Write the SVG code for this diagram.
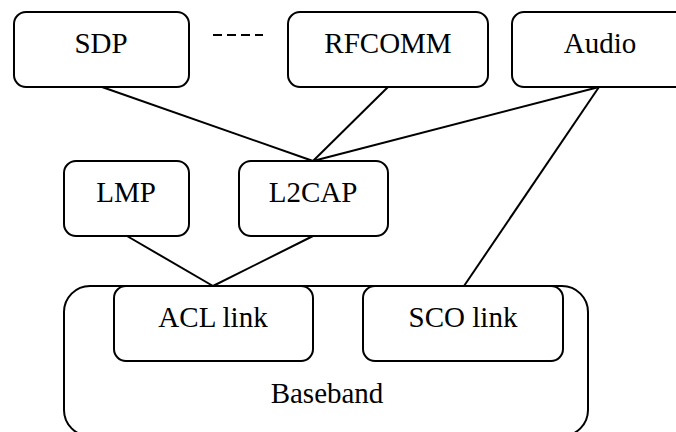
<svg xmlns="http://www.w3.org/2000/svg" width="676" height="432" viewBox="0 0 676 432" font-family="Liberation Serif">
<style>
.box{fill:#fff;stroke:#000;stroke-width:2}
.t{font-size:29px;fill:#000;text-anchor:middle}
.c{stroke:#000;stroke-width:2;fill:none}
</style>
<rect width="676" height="432" fill="#fff"/>
<g id="baseband"><rect class="box" x="64" y="286" width="524" height="150" rx="26"/><text class="t" x="327" y="403">Baseband</text></g>
<g id="connectors">
<line class="c" x1="102" y1="87" x2="313" y2="161"/>
<line class="c" x1="388" y1="87" x2="313" y2="161"/>
<line class="c" x1="599" y1="87" x2="313" y2="161"/>
<line class="c" x1="599" y1="87" x2="464" y2="286"/>
<line class="c" x1="127" y1="236" x2="213" y2="286"/>
<line class="c" x1="313" y1="236" x2="213" y2="286"/>
<line class="c" x1="213" y1="35" x2="263" y2="35" stroke-dasharray="9,5"/>
</g>
<g id="sdp"><rect class="box" x="14" y="12" width="175" height="75" rx="12"/><text class="t" x="101" y="53">SDP</text></g>
<g id="rfcomm"><rect class="box" x="288" y="12" width="200" height="75" rx="12"/><text class="t" x="388" y="53">RFCOMM</text></g>
<g id="audio"><rect class="box" x="512" y="12" width="180" height="75" rx="12"/><text class="t" x="600" y="53">Audio</text></g>
<g id="lmp"><rect class="box" x="64" y="161" width="125" height="75" rx="12"/><text class="t" x="126" y="202">LMP</text></g>
<g id="l2cap"><rect class="box" x="239" y="161" width="149" height="75" rx="12"/><text class="t" x="313" y="202">L2CAP</text></g>
<g id="acl"><rect class="box" x="114" y="286" width="199" height="75" rx="12"/><text class="t" x="213" y="327">ACL link</text></g>
<g id="sco"><rect class="box" x="363" y="286" width="200" height="75" rx="12"/><text class="t" x="463" y="327">SCO link</text></g>
</svg>
